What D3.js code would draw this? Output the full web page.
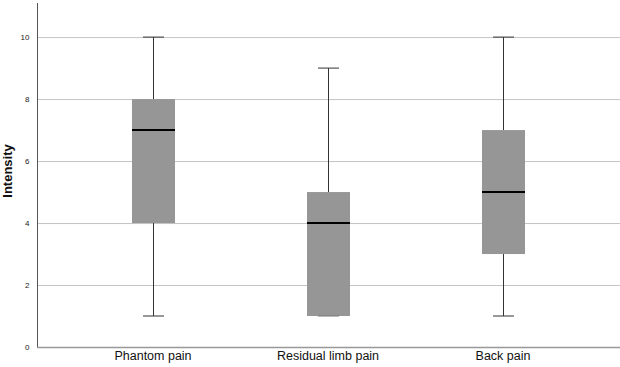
<!DOCTYPE html>
<html><head><meta charset="utf-8">
<script src="https://cdn.jsdelivr.net/npm/d3@7"></script>
<style>body{margin:0;background:#fff}svg{display:block}</style>
</head><body>
<script>
const categories = ["Phantom pain", "Residual limb pain", "Back pain"];
const mins    = [1, 1, 1];
const q1s     = [4, 1, 3];
const medians = [7, 4, 5];
const q3s     = [8, 5, 7];
const maxs    = [10, 9, 10];
const yTicks  = [0, 2, 4, 6, 8, 10];

(function () {
const W = 620, H = 367;
const svg = d3.select("body").append("svg").attr("width", W).attr("height", H);
const mLeft = 37, mRight = 620, mTop = 3, mBottom = 347;

const y = d3.scaleLinear().domain([0, 11.1]).range([mBottom, mTop]);
const x = d3.scaleBand().domain(categories).range([65.5, 590.5]).paddingInner(0).paddingOuter(0);
const boxW = 43, capW = 21;

svg.append("g").selectAll("line").data(yTicks.filter(d => d > 0)).join("line")
  .attr("x1", mLeft).attr("x2", mRight)
  .attr("y1", d => y(d) + 0.5).attr("y2", d => y(d) + 0.5)
  .attr("stroke", "#c4c4c4").attr("stroke-width", 1);

const yAxis = d3.axisLeft(y).tickValues(yTicks).tickSize(0).tickPadding(8);
const gy = svg.append("g").attr("transform", `translate(${mLeft + 0.5},0)`).call(yAxis);
gy.select(".domain").attr("stroke", "#555").attr("d", `M0,${mTop}V${mBottom}`);
gy.selectAll("text").attr("font-family", "Liberation Sans, Arial, sans-serif").attr("font-size", 8).attr("fill", "#222");

const xAxis = d3.axisBottom(x).tickSize(0).tickPadding(4);
const gx = svg.append("g").attr("transform", `translate(0,${mBottom + 0.5})`).call(xAxis);
gx.select(".domain").attr("stroke", "#999").attr("stroke-width", 1.5).attr("d", `M${mLeft},0H${mRight}`);
gx.selectAll("text").attr("font-family", "Liberation Sans, Arial, sans-serif").attr("font-size", 12.5).attr("fill", "#111");

svg.append("text").attr("transform", `translate(12,${(mTop + mBottom) / 2 - 4}) rotate(-90)`)
  .attr("text-anchor", "middle").attr("font-family", "Liberation Sans, Arial, sans-serif")
  .attr("font-weight", "bold").attr("font-size", 13).attr("fill", "#111").text("Intensity");

const data = categories.map((c, i) => ({c, min: mins[i], q1: q1s[i], med: medians[i], q3: q3s[i], max: maxs[i]}));
const g = svg.append("g");
data.forEach(d => {
  const cx = Math.round(x(d.c) + x.bandwidth() / 2) + 0.5;
  g.append("line").attr("x1", cx).attr("x2", cx).attr("y1", y(d.max)).attr("y2", y(d.q3)).attr("stroke", "#333");
  g.append("line").attr("x1", cx).attr("x2", cx).attr("y1", y(d.q1)).attr("y2", y(d.min)).attr("stroke", "#333");
  g.append("rect").attr("x", cx - boxW / 2).attr("width", boxW)
    .attr("y", y(d.q3)).attr("height", y(d.q1) - y(d.q3)).attr("fill", "#969696");
  const capColor = d.min === d.q1 ? "#777" : "#333";
  g.append("line").attr("x1", cx - capW / 2).attr("x2", cx + capW / 2).attr("y1", y(d.max)).attr("y2", y(d.max)).attr("stroke", "#333");
  g.append("line").attr("x1", cx - capW / 2).attr("x2", cx + capW / 2).attr("y1", y(d.min)).attr("y2", y(d.min)).attr("stroke", capColor);
  g.append("line").attr("x1", cx - boxW / 2).attr("x2", cx + boxW / 2).attr("y1", y(d.med)).attr("y2", y(d.med)).attr("stroke", "#000").attr("stroke-width", 2);
});
})();
</script>
</body></html>
